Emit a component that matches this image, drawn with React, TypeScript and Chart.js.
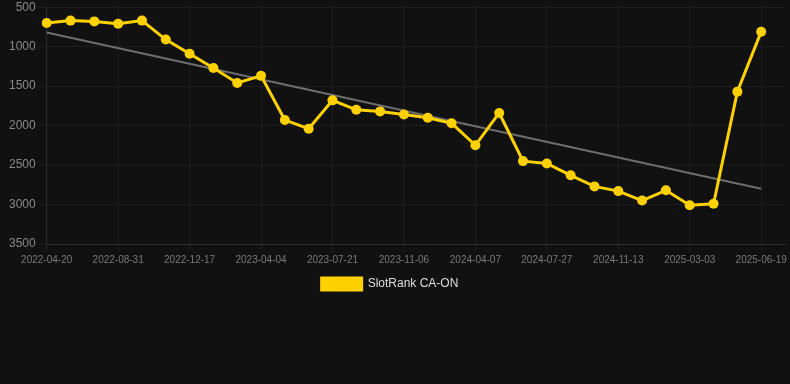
import React, { useEffect, useRef } from "react";
import { Chart, registerables } from "chart.js";

Chart.register(...registerables);

const dateLabels: string[] = [
  "2022-04-20", "2022-06-03", "2022-07-17", "2022-08-31", "2022-10-06", "2022-11-11",
  "2022-12-17", "2023-01-22", "2023-02-27", "2023-04-04", "2023-05-06", "2023-06-15",
  "2023-07-21", "2023-08-26", "2023-10-01", "2023-11-06", "2023-12-26", "2024-02-15",
  "2024-04-07", "2024-05-13", "2024-06-19", "2024-07-27", "2024-09-01", "2024-10-07",
  "2024-11-13", "2024-12-19", "2025-01-25", "2025-03-03", "2025-04-08", "2025-05-14",
  "2025-06-19", "2025-07-25",
];

const rankValues: (number | null)[] = [
  700, 670, 680, 710, 670, 910, 1090, 1270, 1460, 1370, 1930, 2040,
  1680, 1800, 1820, 1860, 1900, 1970, 2250, 1840, 2450, 2480, 2630, 2770,
  2830, 2950, 2820, 3010, 2990, 1570, 810, null,
];

const trendValues: (number | null)[] = [
  820, null, null, null, null, null, null, null, null, null, null, null,
  null, null, null, null, null, null, null, null, null, null, null, null,
  null, null, null, null, null, null, 2800, null,
];

const yTicks = { min: 500, max: 3500, step: 500 };

const legendShift = {
  id: "legendShift",
  beforeDraw(chart: any) {
    const lg = chart.legend;
    if (lg) {
      lg.left = 0;
      lg.right = 780;
    }
  },
};

export default function App() {
  const ref = useRef<HTMLCanvasElement | null>(null);

  useEffect(() => {
    document.body.style.margin = "0";
    document.body.style.background = "#111111";
    Chart.defaults.font.family = "'Liberation Sans', Arial, sans-serif";
    const chart = new Chart(ref.current!, {
      type: "line",
      data: {
        labels: dateLabels,
        datasets: [
          {
            label: "SlotRank CA-ON",
            data: rankValues,
            borderColor: "#FFD100",
            backgroundColor: "#FFD100",
            borderWidth: 3,
            pointRadius: 5,
            pointBackgroundColor: "#FFD100",
            pointBorderWidth: 0,
            tension: 0,
          },
          {
            label: "trend",
            data: trendValues,
            borderColor: "#6e6e6e",
            borderWidth: 2,
            pointRadius: 0,
            spanGaps: true,
            tension: 0,
          },
        ],
      },
      options: {
        animation: false,
        responsive: true,
        maintainAspectRatio: false,
        layout: { padding: { left: 6, right: 0, top: 0, bottom: 0 } },
        plugins: {
          legend: {
            position: "bottom",
            labels: {
              color: "#dddddd",
              font: { size: 12 },
              boxWidth: 40,
              boxHeight: 12,
              filter: (item) => item.text !== "trend",
            },
          },
          tooltip: { enabled: false },
        },
        scales: {
          x: {
            grid: { color: "rgba(255,255,255,0.05)", tickLength: 8 },
            border: { color: "rgba(255,255,255,0.08)" },
            ticks: {
              color: "#7a7a7a",
              font: { size: 10 },
              maxRotation: 0,
              autoSkip: true,
              autoSkipPadding: 10,
              padding: 2,
            },
          },
          y: {
            reverse: true,
            min: yTicks.min,
            max: yTicks.max,
            grid: { color: "rgba(255,255,255,0.05)", tickLength: 8 },
            border: { color: "rgba(255,255,255,0.08)" },
            ticks: {
              stepSize: yTicks.step,
              color: "#8a8a8a",
              font: { size: 12, lineHeight: 0.7 },
              padding: 3,
              callback: (v: any) => String(v),
            },
          },
        },
      },
      plugins: [legendShift],
    });
    return () => chart.destroy();
  }, []);

  return (
    <div style={{ width: 790, height: 384, background: "#111111" }}>
      <div style={{ position: "relative", width: 790, height: 300 }}>
        <canvas ref={ref} />
      </div>
    </div>
  );
}
